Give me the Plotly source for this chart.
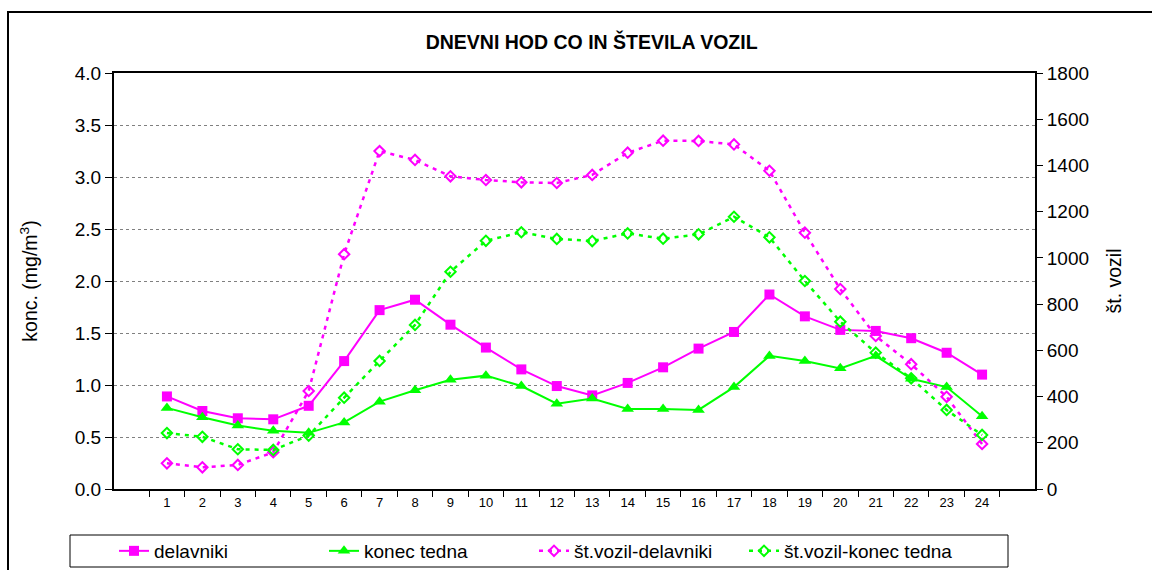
import plotly.graph_objects as go

hours = [str(h) for h in range(1, 25)]
delavniki = [0.89, 0.75, 0.68, 0.67, 0.80, 1.23, 1.72, 1.82, 1.58, 1.36, 1.15, 0.99,
             0.90, 1.02, 1.17, 1.35, 1.51, 1.87, 1.66, 1.53, 1.52, 1.45, 1.31, 1.10]
konec_tedna = [0.78, 0.69, 0.61, 0.56, 0.54, 0.64, 0.84, 0.95, 1.05, 1.09, 0.99, 0.82,
               0.87, 0.77, 0.77, 0.76, 0.98, 1.28, 1.23, 1.16, 1.28, 1.06, 0.98, 0.70]
vozil_delavniki = [111, 94, 104, 159, 424, 1016, 1462, 1424, 1353, 1337, 1327, 1324,
                   1359, 1455, 1507, 1506, 1491, 1377, 1109, 865, 662, 540, 399, 195]
vozil_konec_tedna = [242, 226, 172, 169, 231, 395, 554, 710, 940, 1074, 1111, 1082,
                     1073, 1106, 1083, 1102, 1178, 1089, 900, 724, 590, 479, 342, 234]

MAG = "#FF00FF"
GRN = "#00FF00"
FONT = "Liberation Sans, Arial, sans-serif"

W, H = 1152, 570
L, R, T, B = 114, 1035, 73, 489
pw = R - L
ph = B - T


def px(sx):
    return (sx - L) / pw


def py(sy):
    return (B - sy) / ph


fig = go.Figure()
fig.add_trace(go.Scatter(x=hours, y=delavniki, name="delavniki", mode="lines+markers",
                         line=dict(color=MAG, width=2),
                         marker=dict(symbol="square", size=10, color=MAG)))
fig.add_trace(go.Scatter(x=hours, y=konec_tedna, name="konec tedna", mode="lines+markers",
                         line=dict(color=GRN, width=2),
                         marker=dict(symbol="triangle-up", size=11, color=GRN)))
fig.add_trace(go.Scatter(x=hours, y=vozil_delavniki, name="št.vozil-delavniki", mode="lines+markers",
                         yaxis="y2",
                         line=dict(color=MAG, width=2.5, dash="4px,5px"),
                         marker=dict(symbol="diamond-open", size=8, color=MAG,
                                     line=dict(color=MAG, width=2))))
fig.add_trace(go.Scatter(x=hours, y=vozil_konec_tedna, name="št.vozil-konec tedna", mode="lines+markers",
                         yaxis="y2",
                         line=dict(color=GRN, width=2.5, dash="4px,5px"),
                         marker=dict(symbol="diamond-open", size=8, color=GRN,
                                     line=dict(color=GRN, width=2))))

fig.update_layout(
    width=W, height=H,
    margin=dict(l=L, r=W - R, t=T, b=H - B, pad=0, autoexpand=False),
    paper_bgcolor="white", plot_bgcolor="white",
    font=dict(family=FONT, color="black", size=19),
    title=dict(text="<b>DNEVNI HOD CO IN ŠTEVILA VOZIL</b>", x=px(587), xanchor="center",
               y=1 - 42 / H, yanchor="middle", yref="container",
               font=dict(family=FONT, size=19.5, color="black")),
    xaxis=dict(type="category", showline=True, linecolor="black", linewidth=2, mirror=True,
               ticks="outside", tickson="boundaries", ticklen=6, tickcolor="black", tickwidth=1,
               tickfont=dict(family="Liberation Sans Narrow, Arial Narrow, " + FONT, size=13),
               showgrid=False, zeroline=False),
    yaxis=dict(range=[0, 4], dtick=0.5, tickformat=".1f", showline=True, linecolor="black",
               linewidth=2, ticks="outside", ticklen=7, tickcolor="black", tickwidth=1,
               showgrid=True, gridcolor="#808080", gridwidth=1, griddash="dot",
               zeroline=False, tickfont=dict(size=19),
               title=dict(text="konc. (mg/m<sup>3</sup>)", font=dict(size=19.5), standoff=32)),
    yaxis2=dict(range=[0, 1800], dtick=200, overlaying="y", side="right", showline=True,
                linecolor="black", linewidth=2, ticks="outside", ticklen=6, tickcolor="black",
                tickwidth=1, showgrid=False, zeroline=False, tickfont=dict(size=19),
                title=dict(text="št. vozil", font=dict(size=19.5), standoff=19)),
    legend=dict(orientation="h", x=px(114), xanchor="left", y=py(570), yanchor="bottom",
                borderwidth=0, bgcolor="rgba(0,0,0,0)",
                font=dict(size=19), entrywidth=165, entrywidthmode="pixels",
                tracegroupgap=0, itemsizing="trace"),
    shapes=[
        dict(type="rect", xref="paper", yref="paper",
             x0=px(8), x1=px(1175), y0=py(595), y1=py(12),
             line=dict(color="black", width=2), fillcolor="rgba(0,0,0,0)", layer="below"),
        dict(type="rect", xref="paper", yref="paper",
             x0=px(70), x1=px(1008), y0=py(567), y1=py(535),
             line=dict(color="black", width=1), fillcolor="white", layer="below"),
    ],
    showlegend=True,
)

fig.write_html("out.html", config={"displayModeBar": False},
               post_script="document.body.style.margin='0';document.body.style.overflow='hidden';")
